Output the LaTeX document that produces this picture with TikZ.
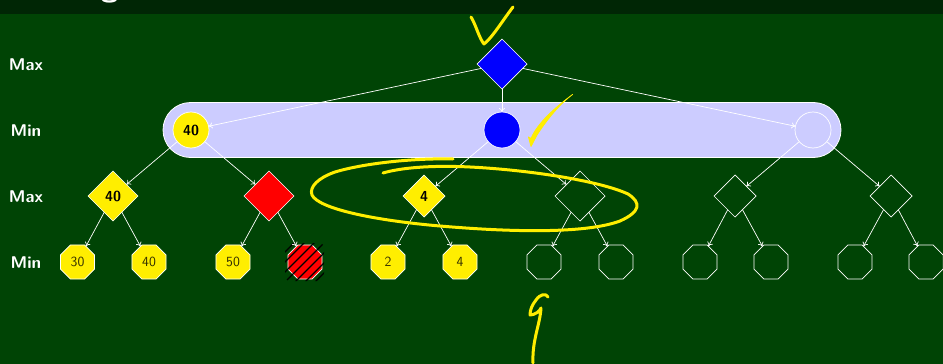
\documentclass[tikz,border=0pt]{standalone}
\usetikzlibrary{shapes.geometric,arrows.meta}
\definecolor{bgg}{HTML}{004405}
\definecolor{topg}{HTML}{002605}
\definecolor{band}{HTML}{CCCCFF}
\definecolor{ink}{HTML}{FFEE00}
\tikzset{
  dia/.style={diamond,draw=white,line width=.7pt,inner sep=0pt,outer sep=0pt,aspect=1,minimum size=#1,font=\sffamily\bfseries\fontsize{14.5}{14.5}\selectfont,text=black},
  mn/.style={circle,draw=white,line width=.7pt,inner sep=0pt,outer sep=0pt,minimum size=36pt,font=\sffamily\bfseries\fontsize{14.5}{14.5}\selectfont,text=black},
  oct/.style={regular polygon,regular polygon sides=8,draw=white,line width=.7pt,inner sep=0pt,outer sep=0pt,minimum size=37pt,font=\sffamily\fontsize{14}{14}\selectfont,text=black!80!ink},
  lab/.style={text=white,font=\sffamily\bfseries\fontsize{17}{17}\selectfont,inner sep=0pt},
  edge/.style={draw=white,line width=.7pt,-{To[length=4pt,width=6pt]}},
  hand/.style={draw=ink,line width=3pt,line cap=round,line join=round}
}
\begin{document}
\begin{tikzpicture}[x=1pt,y=-1pt]
\useasboundingbox (0,0) rectangle (943,364);
\fill[bgg] (0,0) rectangle (943,364);
\fill[topg] (0,0) rectangle (943,14);
\begin{scope}
\clip (0,0) rectangle (943,14);
\node[text=white,font=\sffamily\bfseries\fontsize{32}{32}\selectfont,anchor=base,inner sep=0pt] (title) at (109.5,-3) {g};
\end{scope}
\node[lab] (lmax1) at (26,64.7) {Max};
\node[lab] (lmin1) at (26,130.7) {Min};
\node[lab] (lmax2) at (26,196.7) {Max};
\node[lab] (lmin2) at (26,262.7) {Min};
\draw[white,line width=.8pt,fill=band,rounded corners=27.5pt] (163,102.5) rectangle (841,157.5);
\node[dia=50pt,fill=blue] (r) at (502,64) {};
\node[mn,fill=ink] (a) at (191,130) {40};
\node[mn,fill=blue] (b) at (502,130) {};
\node[mn] (c) at (813,130) {};
\node[dia=50pt,fill=ink] (a1) at (113,196) {40};
\node[dia=50pt,fill=red] (a2) at (269,196) {};
\node[dia=42pt,fill=ink] (b1) at (424,196) {4};
\node[dia=50pt] (b2) at (580,196) {};
\node[dia=42pt] (c1) at (735,196) {};
\node[dia=42pt] (c2) at (891,196) {};
\node[oct,fill=ink] (l1) at (77.5,262) {30};
\node[oct,fill=ink] (l2) at (149,262) {40};
\node[oct,fill=ink] (l3) at (233,262) {50};
\node[oct,fill=red] (l4) at (305,262) {};
\node[oct,fill=ink] (l5) at (388,262) {2};
\node[oct,fill=ink] (l6) at (460,262) {4};
\node[oct] (l7) at (544,262) {};
\node[oct] (l8) at (616,262) {};
\node[oct] (l9) at (700,262) {};
\node[oct] (l10) at (771,262) {};
\node[oct] (l11) at (855,262) {};
\node[oct] (l12) at (926,262) {};
\begin{scope}
\clip (288,243) -- (321,243) -- (324,246) -- (324,278) -- (321,281) -- (288,281) -- (285,278) -- (285,246) -- cycle;
\foreach \k in {-30,-20,...,30} {
  \draw[black,line width=1.2pt] (305+\k-30,262+30) -- (305+\k+30,262-30);
}
\end{scope}
\foreach \p/\q in {r/a,r/b,r/c,a/a1,a/a2,b/b1,b/b2,c/c1,c/c2,a1/l1,a1/l2,a2/l3,a2/l4,b1/l5,b1/l6,b2/l7,b2/l8,c1/l9,c1/l10,c2/l11,c2/l12}
  \draw[edge] (\p) -- (\q);
\draw[hand] (471,17) .. controls (476,25) and (479,38) .. (484,44) .. controls (492,38) and (503,20) .. (513,7);
\filldraw[ink,line width=.8pt,line join=round] (572.5,94.5) .. controls (560,104) and (548,118) .. (537,135) -- (531,146.5) -- (528.5,137) -- (531,138.5) .. controls (538,122) and (556,107) .. (572.5,94.5) -- cycle;
\draw[hand] (453,159) .. controls (415,158) and (365,163) .. (335,172) .. controls (318,178) and (309,187) .. (312,195) .. controls (318,208) and (370,220) .. (440,226) .. controls (510,232) and (585,234) .. (620,221) .. controls (640,212) and (642,203) .. (628,194) .. controls (600,181) and (530,170) .. (470,167) .. controls (430,165) and (400,168) .. (383,173);
\draw[hand] (548,297) .. controls (546,293) and (540,294) .. (536,300) .. controls (532,305) and (530,310) .. (530,315) .. controls (535,315) and (540,311) .. (541,308) .. controls (540,325) and (532,340) .. (533,363);
\end{tikzpicture}
\end{document}
